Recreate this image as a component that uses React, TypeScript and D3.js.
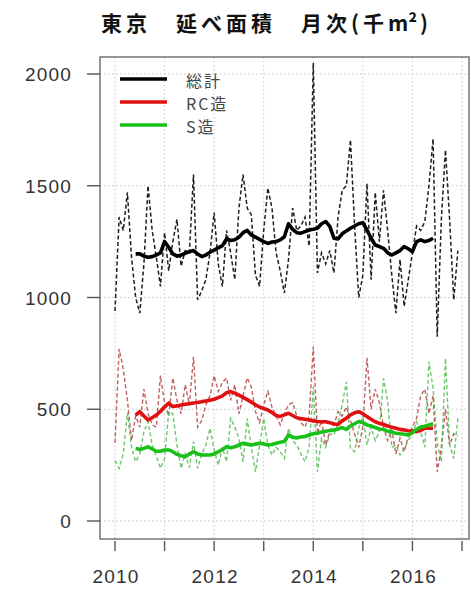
import React from "react";
import * as d3 from "d3";

// Monthly floor area started in Tokyo (thousand m²), Jan 2010 – Dec 2016
const START_YEAR = 2010;

const totalMonthly = [
  940, 1360, 1300, 1470, 1180, 1000, 930, 1150, 1500, 1300, 1180, 1050,
  1290, 1120, 1250, 1350, 1140, 1210, 1200, 1550, 990, 1030, 1080, 1200,
  1380, 1150, 1050, 1300, 1200, 1080, 1400, 1550, 1400, 1370, 1100, 1050,
  1300, 1490, 1400, 1200, 1120, 1020, 1170, 1400, 1300, 1320, 1360, 1230,
  2050, 1110, 1200, 1150, 1210, 1110, 1360, 1480, 1500, 1705, 1320, 1000,
  1100, 1510, 1080, 1470, 1250, 1480, 1300, 1100, 930, 1170, 960, 1080,
  1200, 1320, 1300, 1340, 1500, 1710, 825, 1350, 1660, 1350, 990, 1210,
];

const rcMonthly = [
  350, 770, 680, 540, 360, 470, 420, 590, 480, 430, 420, 650,
  530, 470, 640, 540, 480, 610, 520, 735, 420, 450, 520, 560,
  650, 580, 620, 640, 540, 610, 480, 560, 640, 600, 490, 440,
  520, 580, 510, 470, 430, 480, 520, 530, 470, 440, 420, 470,
  780, 390, 450, 340, 400, 430, 490, 470, 510, 450, 390, 330,
  420, 730, 500, 590, 530, 420, 360, 410, 300, 370, 310, 380,
  420, 460, 560, 590, 480, 560, 220, 330, 500, 340, 390, 380,
];

const sMonthly = [
  270, 235, 300, 485, 330, 265, 300, 400, 445, 340, 290, 236,
  280, 489, 480, 340, 236, 300, 240, 355, 236, 300, 340, 415,
  320, 250, 330, 265, 459, 420, 370, 265, 459, 330, 220, 340,
  459, 340, 295, 330, 310, 280, 415, 360, 340, 300, 265, 330,
  600, 220, 370, 330, 390, 385, 440, 520, 623, 325, 310, 415,
  470, 340, 420, 360, 400, 638, 534, 330, 340, 295, 325, 360,
  390, 444, 400, 330, 713, 594, 350, 265, 728, 340, 280, 459,
];

// 12-month moving averages, first value at month index MA_START (Jun 2010)
const MA_START = 5;

const totalMA = [
  1195, 1195, 1185, 1180, 1183, 1190, 1200,
  1250, 1225, 1195, 1185, 1190, 1198, 1205, 1210, 1195, 1183, 1190, 1203,
  1212, 1222, 1232, 1262, 1255, 1258, 1270, 1290, 1300, 1280, 1270, 1260,
  1250, 1242, 1248, 1250, 1258, 1272, 1330, 1305, 1290, 1288, 1295, 1302,
  1305, 1310, 1330, 1340, 1318, 1265, 1262, 1285, 1298, 1310, 1320, 1330,
  1335, 1302, 1265, 1235, 1228, 1220, 1200, 1190, 1200, 1210, 1228, 1218,
  1205, 1250, 1258, 1250, 1255, 1265,
];

const rcMA = [
  474, 489, 470, 452, 462, 474, 490,
  511, 527, 512, 515, 519, 522, 525, 528, 530, 534, 537, 540,
  545, 552, 560, 574, 579, 572, 563, 553, 543, 532, 520, 510,
  503, 497, 485, 472, 468, 475, 482, 472, 462, 458, 455, 452,
  448, 445, 444, 444, 440, 434, 432, 448, 460, 475, 484, 489,
  480, 467, 455, 444, 437, 432, 425, 420, 415, 410, 407, 404,
  402, 400, 405, 415, 415, 415,
];

const sMA = [
  325, 320, 325, 332, 322, 312, 312,
  318, 318, 310, 298, 292, 288, 300, 310, 300, 295, 295, 295,
  300, 310, 320, 332, 328, 332, 340, 348, 344, 340, 344, 348,
  345, 340, 342, 348, 352, 356, 385, 375, 372, 376, 378, 385,
  390, 393, 398, 402, 405, 407, 412, 418, 410, 425, 435, 445,
  440, 430, 425, 418, 412, 410, 402, 398, 393, 390, 388, 385,
  395, 410, 420, 424, 430, 435,
];

const seriesNames = ["総計", "RC造", "S造"];
const yTicks = [0, 500, 1000, 1500, 2000];
const xTicks = [2010, 2011, 2012, 2013, 2014, 2015, 2016, 2017];
const xLabels = [2010, 2012, 2014, 2016];

const W = 471;
const H = 596;
const box = { left: 100, top: 57, right: 469, bottom: 539 };

const x = d3.scaleLinear().domain([2010, 2017]).range([115, 462]);
const y = d3.scaleLinear().domain([0, 2000]).range([521, 74]);

const toPoints = (vals: number[], start: number) =>
  vals.map((v, i) => [START_YEAR + (start + i) / 12, v] as [number, number]);

const line = d3
  .line<[number, number]>()
  .x((d) => x(d[0]))
  .y((d) => y(d[1]));

const dashedSeries = [
  { vals: totalMonthly, color: "#111", opacity: 0.95, width: 1.5 },
  { vals: rcMonthly, color: "#b03838", opacity: 0.8, width: 1.4 },
  { vals: sMonthly, color: "#48b848", opacity: 0.8, width: 1.4 },
];

const maSeries = [
  { vals: totalMA, color: "#000" },
  { vals: rcMA, color: "#e01010" },
  { vals: sMA, color: "#18c018" },
];

const numFont = "'Liberation Sans', Arial, sans-serif";
const jpFont = "'Noto Sans CJK JP', sans-serif";

export default function App() {
  return (
    <svg
      width={W}
      height={H}
      viewBox={`0 0 ${W} ${H}`}
      style={{ position: "absolute", left: 0, top: 0, background: "#fff" }}
    >
      <rect x={0} y={0} width={W} height={H} fill="#fff" />
      <text
        x={101}
        y={31}
        fontFamily={jpFont}
        fontSize={21}
        fontWeight="bold"
        letterSpacing={4}
        fill="#111"
      >
        東京　延べ面積　月次(千<tspan letterSpacing={0}>m²</tspan>
        <tspan dx={3}>)</tspan>
      </text>

      {/* grid */}
      {xTicks.map((t) => (
        <line
          key={"gx" + t}
          x1={x(t)}
          x2={x(t)}
          y1={box.top}
          y2={box.bottom}
          stroke="#c8c8c8"
          strokeWidth={1}
          strokeDasharray="1.5,2.5"
        />
      ))}
      {yTicks.map((t) => (
        <line
          key={"gy" + t}
          x1={box.left}
          x2={box.right}
          y1={y(t)}
          y2={y(t)}
          stroke="#c8c8c8"
          strokeWidth={1}
          strokeDasharray="1.5,2.5"
        />
      ))}

      {/* monthly values */}
      {dashedSeries.map((s, k) => (
        <path
          key={"d" + k}
          d={line(toPoints(s.vals, 0)) || ""}
          fill="none"
          stroke={s.color}
          strokeOpacity={s.opacity}
          strokeWidth={s.width}
          strokeDasharray="4,2.5"
        />
      ))}

      {/* moving averages */}
      {maSeries.map((s, k) => (
        <path
          key={"m" + k}
          d={line(toPoints(s.vals, MA_START)) || ""}
          fill="none"
          stroke={s.color}
          strokeWidth={3.6}
          strokeLinejoin="round"
        />
      ))}

      {/* frame */}
      <rect
        x={box.left}
        y={box.top}
        width={box.right - box.left}
        height={box.bottom - box.top}
        fill="none"
        stroke="#6a6a6a"
        strokeWidth={1.4}
      />

      {/* y axis */}
      {yTicks.map((t) => (
        <g key={"yt" + t}>
          <line x1={87} x2={box.left} y1={y(t)} y2={y(t)} stroke="#555" strokeWidth={1.4} />
          <text
            x={72}
            y={y(t) + 7}
            textAnchor="end"
            fontFamily={numFont}
            fontSize={19}
            letterSpacing={1.2}
            fill="#333"
          >
            {t}
          </text>
        </g>
      ))}

      {/* x axis */}
      {xTicks.map((t) => (
        <line
          key={"xt" + t}
          x1={x(t)}
          x2={x(t)}
          y1={box.bottom + 2}
          y2={box.bottom + 12}
          stroke="#555"
          strokeWidth={1.4}
        />
      ))}
      {xLabels.map((t) => (
        <text
          key={"xl" + t}
          x={x(t) + 1}
          y={583}
          textAnchor="middle"
          fontFamily={numFont}
          fontSize={19}
          letterSpacing={1.2}
          fill="#333"
        >
          {t}
        </text>
      ))}

      {/* legend */}
      {seriesNames.map((name, k) => (
        <g key={"lg" + k}>
          <line
            x1={120}
            x2={167}
            y1={79 + k * 23}
            y2={79 + k * 23}
            stroke={maSeries[k].color}
            strokeWidth={3.6}
          />
          <text
            x={186}
            y={87 + k * 23}
            fontFamily={jpFont}
            fontSize={16}
            letterSpacing={2}
            fill="#444"
          >
            {name}
          </text>
        </g>
      ))}
    </svg>
  );
}
